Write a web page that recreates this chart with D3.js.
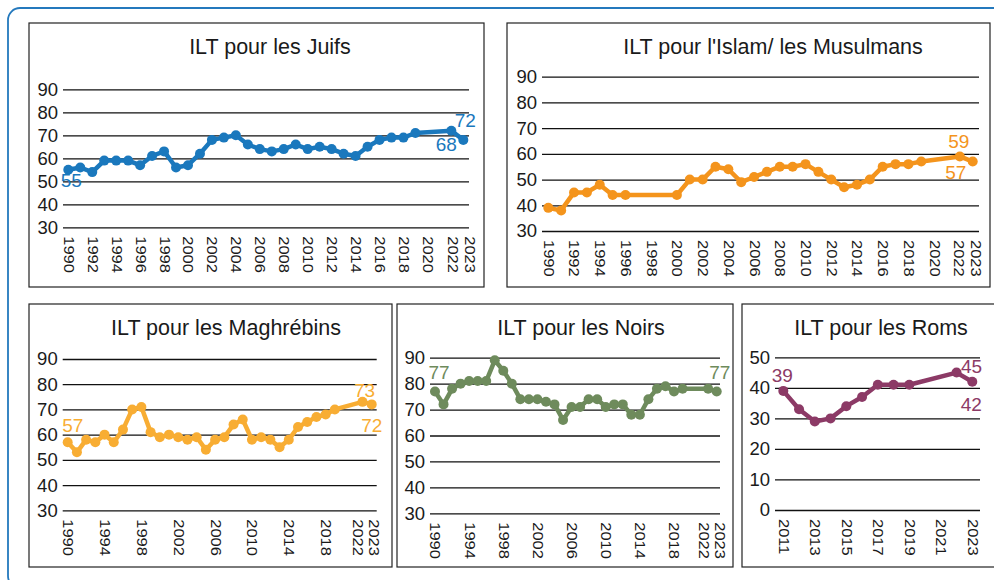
<!DOCTYPE html>
<html>
<head>
<meta charset="utf-8">
<script src="https://cdn.jsdelivr.net/npm/d3@7"></script>
<style>
  body { margin: 0; background: #fff; }
  svg text { font-family: "Liberation Sans", Arial, sans-serif; fill: #1a1a1a; }
</style>
</head>
<body>
<svg id="chart" width="994" height="580"></svg>
<script>
// years with a survey (2020 and 2021 missing)
const yearsMain = [1990, 1991, 1992, 1993, 1994, 1995, 1996, 1997, 1998, 1999,
    2000, 2001, 2002, 2003, 2004, 2005, 2006, 2007, 2008, 2009,
    2010, 2011, 2012, 2013, 2014, 2015, 2016, 2017, 2018, 2019, 2022, 2023];
const yearsIslam = [1990, 1991, 1992, 1993, 1994, 1995, 1996,
    2000, 2001, 2002, 2003, 2004, 2005, 2006, 2007, 2008, 2009,
    2010, 2011, 2012, 2013, 2014, 2015, 2016, 2017, 2018, 2019, 2022, 2023];
const yearsRoms = [2011, 2012, 2013, 2014, 2015, 2016, 2017, 2018, 2019, 2022, 2023];

// series values
const juifs = [55, 56, 54, 59, 59, 59, 57, 61, 63, 56, 57, 62, 68, 69, 70, 66, 64, 63, 64, 66,
    64, 65, 64, 62, 61, 65, 68, 69, 69, 71, 72, 68];
const islam = [39, 38, 45, 45, 48, 44, 44, 44, 50, 50, 55, 54, 49, 51, 53, 55, 55,
    56, 53, 50, 47, 48, 50, 55, 56, 56, 57, 59, 57];
const maghrebins = [57, 53, 58, 57, 60, 57, 62, 70, 71, 61, 59, 60, 59, 58, 59, 54, 58, 59, 64, 66,
    58, 59, 58, 55, 58, 63, 65, 67, 68, 70, 73, 72];
const noirs = [77, 72, 78, 80, 81, 81, 81, 89, 85, 80, 74, 74, 74, 73, 72, 66, 71, 71, 74, 74,
    71, 72, 72, 68, 68, 74, 78, 79, 77, 78, 78, 77];
const roms = [39, 33, 29, 30, 34, 37, 41, 41, 41, 45, 42];

// tick labels
const ticksEvery2 = [1990, 1992, 1994, 1996, 1998, 2000, 2002, 2004, 2006, 2008, 2010,
    2012, 2014, 2016, 2018, 2020, 2022, 2023];
const ticksEvery4 = [1990, 1994, 1998, 2002, 2006, 2010, 2014, 2018, 2022, 2023];
const ticksRoms = [2011, 2013, 2015, 2017, 2019, 2021, 2023];
const yTicksMain = [30, 40, 50, 60, 70, 80, 90];
const yTicksRoms = [0, 10, 20, 30, 40, 50];

// labelled points: [index in series, dx, dy]
const labelsJuifs = [[0, 3, 17], [30, 14, -4], [31, -17, 11]];
const labelsIslam = [[27, -1, -8], [28, -17, 17]];
const labelsMaghrebins = [[0, 5, -10], [30, 2, -5], [31, 0, 28]];
const labelsNoirs = [[0, 4, -12], [31, 3, -12]];
const labelsRoms = [[0, -1, -9], [9, 15, 0], [10, -1, 29]];

let svg = d3.select("#chart");

// outer blue frame
svg.append("rect")
    .attr("x", 8).attr("y", 8)
    .attr("width", 1000).attr("height", 580)
    .attr("rx", 12)
    .attr("fill", "none")
    .attr("stroke", "#2479bd")
    .attr("stroke-width", 1.8);

// shift: nudge of the crowded 2022 / 2023 tick labels
const panels = [
    {title: "ILT pour les Juifs", years: yearsMain, values: juifs, color: "#1a78bd",
     box: [29, 23, 484, 287], gx: [63, 469], xr: [68.3, 463.3], yr: [227.3, 89.3],
     xdom: [1990, 2023], ydom: [30, 90], xticks: ticksEvery2, yticks: yTicksMain,
     titleX: 270, titleY: 54, labels: labelsJuifs, shift: {2022: 1, 2023: 6}},
    {title: "ILT pour l'Islam/ les Musulmans", years: yearsIslam, values: islam, color: "#f4941c",
     box: [507, 23, 990, 287], gx: [542, 979], xr: [548.3, 972.7], yr: [231, 76.7],
     xdom: [1990, 2023], ydom: [30, 90], xticks: ticksEvery2, yticks: yTicksMain,
     titleX: 773, titleY: 54, labels: labelsIslam, shift: {2022: -1, 2023: 3}},
    {title: "ILT pour les Maghrébins", years: yearsMain, values: maghrebins, color: "#f8ad33",
     box: [29, 304, 392, 567], gx: [62.7, 376.7], xr: [67.7, 371.7], yr: [510.3, 359],
     xdom: [1990, 2023], ydom: [30, 90], xticks: ticksEvery4, yticks: yTicksMain,
     titleX: 226, titleY: 335, labels: labelsMaghrebins, shift: {2022: -5, 2023: 2}},
    {title: "ILT pour les Noirs", years: yearsMain, values: noirs, color: "#6e8b5c",
     box: [397, 304, 733, 567], gx: [430, 720], xr: [435, 716.7], yr: [513.3, 357.7],
     xdom: [1990, 2023], ydom: [30, 90], xticks: ticksEvery4, yticks: yTicksMain,
     titleX: 581, titleY: 335, labels: labelsNoirs, shift: {2022: -5, 2023: 3}},
    {title: "ILT pour les Roms", years: yearsRoms, values: roms, color: "#8c3a66",
     box: [742, 304, 1004, 567], gx: [775, 980], xr: [783.3, 972.3], yr: [510, 357.3],
     xdom: [2011, 2023], ydom: [0, 50], xticks: ticksRoms, yticks: yTicksRoms,
     titleX: 881, titleY: 335, labels: labelsRoms, shift: {}}
];

panels.forEach(function (p) {
    let g = svg.append("g");

    // panel border
    g.append("rect")
        .attr("x", p.box[0]).attr("y", p.box[1])
        .attr("width", p.box[2] - p.box[0]).attr("height", p.box[3] - p.box[1])
        .attr("fill", "#fff")
        .attr("stroke", "#222")
        .attr("stroke-width", 1.2);

    g.append("text")
        .attr("x", p.titleX).attr("y", p.titleY)
        .attr("text-anchor", "middle")
        .style("font-size", "21.5px")
        .text(p.title);

    let x = d3.scaleLinear().domain(p.xdom).range(p.xr);
    let y = d3.scaleLinear().domain(p.ydom).range(p.yr);

    // gridlines + y labels
    let yAxis = g.append("g")
        .attr("transform", "translate(" + p.gx[0] + ",0)")
        .call(d3.axisLeft(y)
            .tickValues(p.yticks)
            .tickSize(-(p.gx[1] - p.gx[0]))
            .tickPadding(5)
            .tickFormat(d3.format("d")));
    yAxis.select(".domain").remove();
    yAxis.selectAll("line").attr("stroke", "#111").attr("stroke-width", 1.3);
    yAxis.selectAll("text").style("font-size", "18.5px").attr("fill", "#1a1a1a");

    // x labels, rotated
    let xAxis = g.append("g")
        .attr("transform", "translate(0," + p.yr[0] + ")")
        .call(d3.axisBottom(x)
            .tickValues(p.xticks)
            .tickSize(0)
            .tickFormat(d3.format("d")));
    xAxis.select(".domain").remove();
    xAxis.selectAll("text")
        .attr("transform", function (d) {
            let s = p.shift[d] || 0;
            return "translate(" + s + ",0) rotate(90) scale(1,0.85)";
        })
        .attr("x", 9).attr("y", 0)
        .attr("dy", "0.36em")
        .attr("text-anchor", "start")
        .style("font-size", "16.5px")
        .attr("fill", "#1a1a1a");

    let pts = p.years.map(function (yr, i) { return [yr, p.values[i]]; });

    g.append("path")
        .datum(pts)
        .attr("fill", "none")
        .attr("stroke", p.color)
        .attr("stroke-width", 4.5)
        .attr("stroke-linejoin", "round")
        .attr("d", d3.line()
            .x(function (d) { return x(d[0]); })
            .y(function (d) { return y(d[1]); }));

    g.selectAll(".pt")
        .data(pts)
        .enter()
        .append("circle")
        .attr("cx", function (d) { return x(d[0]); })
        .attr("cy", function (d) { return y(d[1]); })
        .attr("r", 5)
        .attr("fill", p.color);

    // value labels
    p.labels.forEach(function (l) {
        let d = pts[l[0]];
        g.append("text")
            .attr("x", x(d[0]) + l[1])
            .attr("y", y(d[1]) + l[2])
            .attr("text-anchor", "middle")
            .style("font-size", "19px")
            .style("fill", p.color)
            .text(d[1]);
    });
});
</script>
</body>
</html>
